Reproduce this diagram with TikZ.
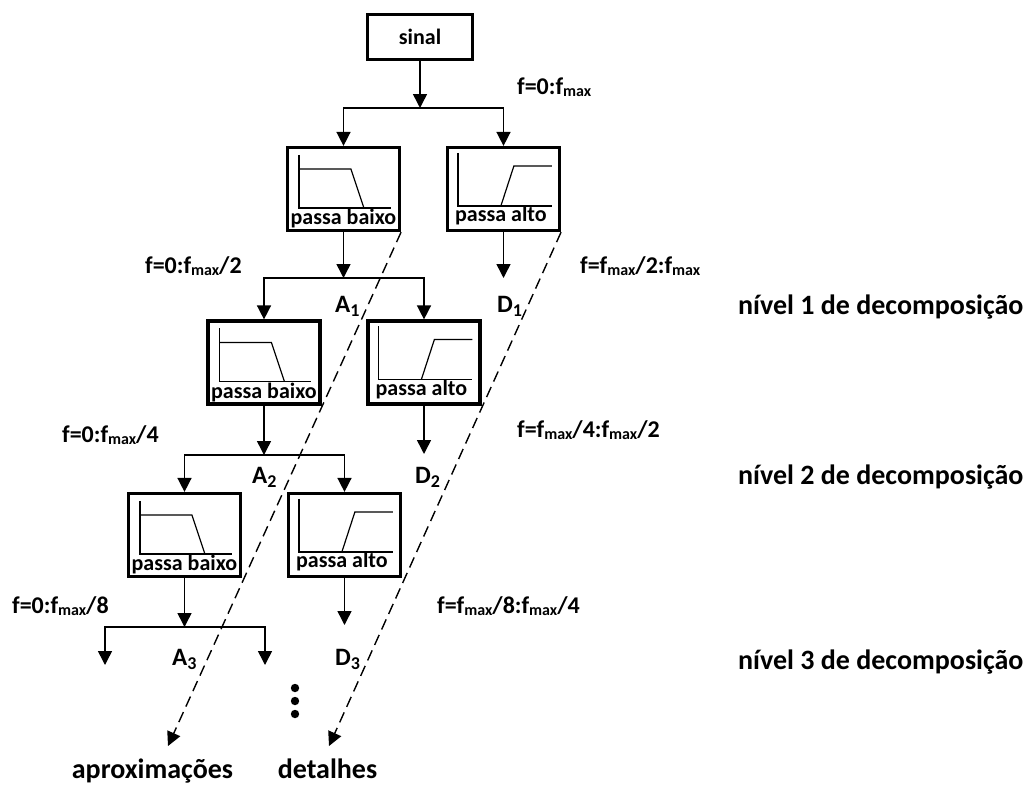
\documentclass[tikz,border=0pt]{standalone}
\usepackage{fontspec}
\setmainfont{Carlito}
\usetikzlibrary{arrows.meta}
\newcommand\fsub[1]{\raisebox{-2.5pt}{\fontsize{16}{16}\selectfont #1}}
\newcommand\isub[1]{\raisebox{-4pt}{\fontsize{18}{18}\selectfont #1}}
\begin{document}
\begin{tikzpicture}[x=1pt,y=-1pt,
  txt/.style={font=\bfseries\fontsize{22}{24}\selectfont, inner sep=0pt},
  ftxt/.style={font=\bfseries\fontsize{24}{26}\selectfont, inner sep=0pt, anchor=base west},
  bigtxt/.style={font=\bfseries\fontsize{28}{30}\selectfont, inner sep=0pt},
  idx/.style={font=\bfseries\fontsize{25}{27}\selectfont, inner sep=0pt, anchor=base west},
  box/.style={draw, line width=3.2pt, inner sep=0pt},
  filt/.style={box, minimum width=112pt, minimum height=83pt},
  conn/.style={line width=1.5pt},
  arr/.style={conn, -{Triangle[width=14pt,length=14pt]}},
  dasharr/.style={line width=1.4pt, dash pattern=on 11pt off 6pt, -{Triangle[width=14pt,length=14pt]}},
  axis/.style={line width=1.2pt},
]
\useasboundingbox (0,0) rectangle (1027,787);

% source
\node[box, minimum width=105pt, minimum height=45pt, txt] (sinal) at (420,37) {sinal};

% filter banks
\foreach \i/\lx/\cy in {1/343.5/189, 2/264/362.5, 3/184.5/535} {
  \node[filt] (lp\i) at (\lx,\cy) {};
  \node[filt] (hp\i) at (\lx+160,\cy) {};
  \begin{scope}[shift={(lp\i.north west)}]
    \draw[axis] (13,9) -- (13,62) -- (105,62);
    \draw[axis] (13,23) -- (65,23) -- (78,62);
    \node[txt, anchor=base] (lpt\i) at (57.5,79) {passa baixo};
  \end{scope}
  \begin{scope}[shift={(hp\i.north west)}]
    \draw[axis] (12,7) -- (12,60) -- (106,60);
    \draw[axis] (55,60) -- (68,20) -- (106,20);
    \node[txt, anchor=base] (hpt\i) at (55,76) {passa alto};
  \end{scope}
}

% junctions and free ends
\coordinate (j1) at (420,108);
\coordinate (j2) at (343.5,278);
\coordinate (j3) at (264,455);
\coordinate (j4) at (184.5,627);
\coordinate (d1) at (503.5,278);
\coordinate (d2) at (424,454);
\coordinate (d3) at (344.5,625);
\coordinate (e1) at (105,665);
\coordinate (e2) at (265,665);
\coordinate (ap) at (168,746);
\coordinate (de) at (329,746);

% level 1
\draw[arr] (sinal.south) -- (j1);
\draw[arr] (j1) -| (lp1.north);
\draw[arr] (j1) -| (hp1.north);
\draw[arr] (hp1.south) -- (d1);
% level 2
\draw[arr] (lp1.south) -- (j2);
\draw[arr] (j2) -| (lp2.north);
\draw[arr] (j2) -| (hp2.north);
\draw[arr] (hp2.south) -- (d2);
% level 3
\draw[arr] (lp2.south) -- (j3);
\draw[arr] (j3) -| (lp3.north);
\draw[arr] (j3) -| (hp3.north);
\draw[arr] (hp3.south) -- (d3);
% level 4
\draw[arr] (lp3.south) -- (j4);
\draw[arr] (j4) -| (e1);
\draw[arr] (j4) -| (e2);

% dashed collectors
\draw[dasharr] (lp1.south east) -- (ap);
\draw[dasharr] (hp1.south east) -- (de);

% continuation dots
\fill (295,688) circle (4.2pt);
\fill (295,701) circle (4.2pt);
\fill (295,714) circle (4.2pt);

% frequency labels
\node[ftxt] (f0) at (517,94) {f=0:f\fsub{max}};
\node[ftxt] (f1) at (145,273) {f=0:f\fsub{max}/2};
\node[ftxt] (f2) at (580,273) {f=f\fsub{max}/2:f\fsub{max}};
\node[ftxt] (f3) at (62,442) {f=0:f\fsub{max}/4};
\node[ftxt] (f4) at (517,437) {f=f\fsub{max}/4:f\fsub{max}/2};
\node[ftxt] (f5) at (12,613) {f=0:f\fsub{max}/8};
\node[ftxt] (f6) at (437,613) {f=f\fsub{max}/8:f\fsub{max}/4};

% outputs
\node[idx] (a1) at (335,312) {A\isub{1}};
\node[idx] (dd1) at (497,312) {D\isub{1}};
\node[idx] (a2) at (252,483) {A\isub{2}};
\node[idx] (dd2) at (415,483) {D\isub{2}};
\node[idx] (a3) at (172,665) {A\isub{3}};
\node[idx] (dd3) at (335,665) {D\isub{3}};

% levels
\node[bigtxt, anchor=base west] (n1) at (738,314) {nível 1 de decomposição};
\node[bigtxt, anchor=base west] (n2) at (738,484) {nível 2 de decomposição};
\node[bigtxt, anchor=base west] (n3) at (738,669) {nível 3 de decomposição};

% bottom labels
\node[bigtxt, anchor=base] (apx) at (152.5,778) {aproximações};
\node[bigtxt, anchor=base] (det) at (327.5,778) {detalhes};
\end{tikzpicture}
\end{document}
